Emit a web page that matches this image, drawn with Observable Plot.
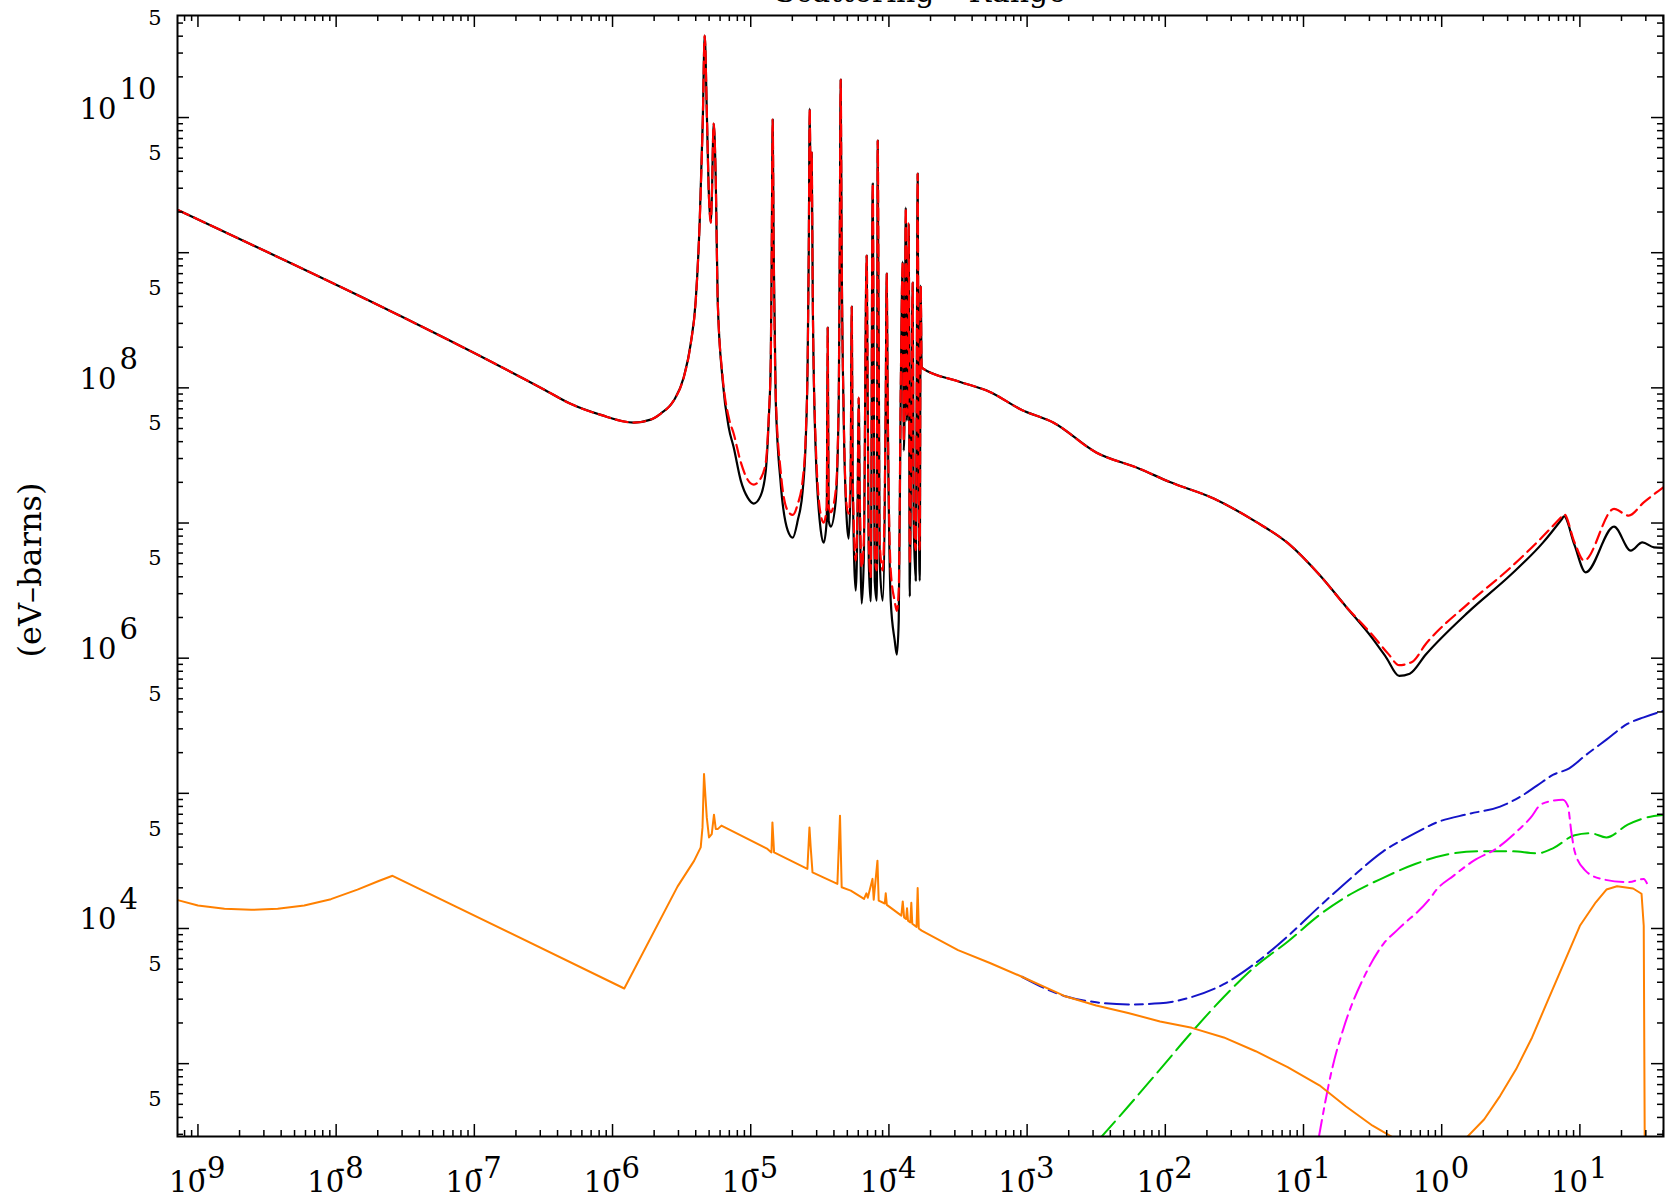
<!DOCTYPE html>
<html>
<head>
<meta charset="utf-8">
<script src="https://cdn.jsdelivr.net/npm/d3@7"></script>
<script src="https://cdn.jsdelivr.net/npm/@observablehq/plot@0.6"></script>
<style>
  html, body { margin: 0; padding: 0; background: #fff; }
  #chart svg { display: block; }
</style>
</head>
<body>
<div id="chart"></div>
<script>
// ---------- layout ----------
const W = 1667, H = 1201;
const margin = {left: 177, right: 4, top: 15, bottom: 65};
// axis ranges (log10 of the values at the frame edges)
const xRangeLog = [-9.148, 1.605];
const yRangeLog = [2.461, 10.755];

// ---------- data: [log10(energy), log10(value)] ----------
const totalCurve = [
  [-9.146,9.316],[-6.50,7.99],[-6.30,7.88],[-6.085,7.80],[-5.847,7.743],[-5.724,7.765],[-5.651,7.810],
  [-5.557,7.906],[-5.485,8.076],[-5.434,8.328],[-5.398,8.646],[-5.369,9.238],[-5.347,9.978],[-5.333,10.607],
  [-5.318,10.052],[-5.304,9.460],[-5.289,9.223],[-5.282,9.386],[-5.268,9.956],[-5.253,9.534],[-5.239,8.646],
  [-5.203,8.054],[-5.159,7.706],[-5.123,7.558],[-5.072,7.314],[-5.022,7.188],[-4.978,7.144],[-4.928,7.203],
  [-4.891,7.388],[-4.870,7.758],[-4.855,8.202],[-4.848,9.016],[-4.841,9.985],[-4.834,9.016],[-4.819,7.906],
  [-4.783,7.292],[-4.732,6.944],[-4.696,6.892],[-4.660,7.018],[-4.624,7.240],[-4.602,7.610],[-4.588,8.202],
  [-4.580,9.016],[-4.573,10.067],[-4.566,9.386],[-4.559,9.741],[-4.551,8.646],[-4.530,7.536],[-4.493,6.944],
  [-4.472,6.855],[-4.450,7.018],[-4.443,8.446],[-4.436,7.018],[-4.421,6.973],[-4.385,7.166],[-4.363,7.906],
  [-4.356,9.016],[-4.349,10.281],[-4.342,9.016],[-4.327,7.758],[-4.305,7.018],[-4.291,6.885],[-4.277,7.314],
  [-4.269,8.601],[-4.262,7.314],[-4.240,6.500],[-4.226,7.166],[-4.219,7.928],[-4.211,7.166],[-4.197,6.404],
  [-4.182,6.722],[-4.161,8.979],[-4.146,6.722],[-4.132,6.42],[-4.117,9.512],[-4.103,6.574],[-4.088,6.426],
  [-4.081,9.830],[-4.067,6.722],[-4.045,6.426],[-4.023,7.906],[-4.016,8.846],[-4.009,7.906],[-3.987,6.426],
  [-3.958,6.130],[-3.943,6.026],[-3.929,6.278],[-3.915,7.906],[-3.900,8.934],[-3.893,7.536],[-3.886,7.906],
  [-3.878,9.334],[-3.871,7.758],[-3.864,7.906],[-3.857,9.216],[-3.849,6.456],[-3.842,7.166],[-3.828,8.779],
  [-3.821,7.018],[-3.806,6.574],[-3.799,7.906],[-3.792,9.586],[-3.784,7.166],[-3.777,6.574],[-3.770,8.757],
  [-3.763,8.150],[-3.500,8.049],[-3.269,7.970],[-3.038,7.836],[-2.808,7.742],[-2.500,7.522],[-2.192,7.404],
  [-1.962,7.301],[-1.654,7.183],[-1.346,7.010],[-1.115,6.853],[-0.885,6.617],[-0.692,6.381],[-0.500,6.145],
  [-0.400,6.003],[-0.308,5.869],[-0.231,5.885],[-0.115,6.027],[0.192,6.341],[0.500,6.617],[0.731,6.853],
  [0.870,7.030],[0.885,7.050],[0.960,6.840],[1.042,6.635],[1.247,6.973],[1.368,6.796],[1.452,6.857],
  [1.536,6.820],[1.604,6.816]
];

const redCurve = [
  [-9.146,9.316],[-6.50,7.99],[-6.30,7.88],[-6.085,7.80],[-5.847,7.743],[-5.724,7.765],[-5.651,7.810],
  [-5.557,7.906],[-5.485,8.076],[-5.434,8.328],[-5.398,8.646],[-5.369,9.238],[-5.347,9.978],[-5.333,10.607],
  [-5.318,10.052],[-5.304,9.460],[-5.289,9.223],[-5.282,9.386],[-5.268,9.956],[-5.253,9.534],[-5.239,8.646],
  [-5.203,8.08],[-5.159,7.78],[-5.123,7.66],[-5.072,7.45],[-5.022,7.32],[-4.978,7.284],[-4.928,7.33],
  [-4.891,7.45],[-4.870,7.78],[-4.855,8.202],[-4.848,9.016],[-4.841,9.985],[-4.834,9.016],[-4.819,7.95],
  [-4.783,7.38],[-4.732,7.09],[-4.696,7.06],[-4.660,7.14],[-4.624,7.32],[-4.602,7.65],[-4.588,8.202],
  [-4.580,9.016],[-4.573,10.067],[-4.566,9.386],[-4.559,9.741],[-4.551,8.646],[-4.530,7.60],[-4.493,7.06],
  [-4.472,7.003],[-4.450,7.12],[-4.443,8.446],[-4.436,7.12],[-4.421,7.08],[-4.385,7.24],[-4.363,7.93],
  [-4.356,9.016],[-4.349,10.281],[-4.342,9.016],[-4.327,7.80],[-4.305,7.12],[-4.291,7.07],[-4.277,7.36],
  [-4.269,8.601],[-4.262,7.36],[-4.240,6.722],[-4.226,7.22],[-4.219,7.928],[-4.211,7.22],[-4.197,6.67],
  [-4.182,6.86],[-4.161,8.979],[-4.146,6.86],[-4.132,6.60],[-4.117,9.512],[-4.103,6.76],[-4.088,6.65],
  [-4.081,9.830],[-4.067,6.86],[-4.045,6.65],[-4.023,7.93],[-4.016,8.846],[-4.009,7.93],[-3.987,6.65],
  [-3.958,6.42],[-3.943,6.35],[-3.929,6.50],[-3.915,7.93],[-3.900,8.934],[-3.893,7.60],[-3.886,7.93],
  [-3.878,9.334],[-3.871,7.80],[-3.864,7.93],[-3.857,9.216],[-3.849,6.70],[-3.842,7.22],[-3.828,8.779],
  [-3.821,7.10],[-3.806,6.80],[-3.799,7.93],[-3.792,9.586],[-3.784,7.22],[-3.777,6.80],[-3.770,8.757],
  [-3.763,8.150],[-3.500,8.049],[-3.269,7.970],[-3.038,7.836],[-2.808,7.742],[-2.500,7.522],[-2.192,7.404],
  [-1.962,7.301],[-1.654,7.183],[-1.346,7.010],[-1.115,6.853],[-0.885,6.617],[-0.692,6.381],[-0.500,6.170],
  [-0.385,6.030],[-0.308,5.948],[-0.215,5.972],[-0.115,6.105],[0.192,6.404],[0.500,6.672],[0.731,6.900],
  [0.870,7.050],[0.885,7.066],[0.960,6.860],[1.030,6.722],[1.247,7.104],[1.353,7.055],[1.462,7.153],
  [1.604,7.264]
];

const orangeLow = [
  [-9.146,4.21],[-9.000,4.17],[-8.808,4.146],[-8.615,4.138],[-8.423,4.146],[-8.231,4.170],[-8.038,4.217],
  [-7.846,4.288],[-7.692,4.351],[-7.592,4.390],
  [-5.915,3.556],[-5.530,4.31],[-5.410,4.500],[-5.362,4.600],[-5.349,4.748],[-5.338,5.143],[-5.318,4.822],
  [-5.302,4.674],[-5.282,4.699],[-5.266,4.842],[-5.253,4.737],[-5.237,4.737],[-5.212,4.761],[-4.879,4.589],
  [-4.850,4.563],[-4.843,4.785],[-4.831,4.563],[-4.590,4.441],[-4.575,4.748],[-4.566,4.600],[-4.553,4.415],
  [-4.373,4.330],[-4.354,4.835],[-4.342,4.305],[-4.276,4.280],[-4.180,4.219],[-4.163,4.260],[-4.153,4.228],
  [-4.119,4.367],[-4.110,4.213],[-4.083,4.502],[-4.074,4.206],[-4.030,4.185],[-4.023,4.26],[-4.015,4.175],
  [-3.910,4.095],[-3.900,4.20],[-3.890,4.082],[-3.876,4.070],[-3.869,4.15],[-3.862,4.058],[-3.845,4.045],
  [-3.838,4.19],[-3.831,4.035],[-3.800,4.012],[-3.792,4.30],[-3.784,4.000],[-3.763,3.984],[-3.500,3.840],
  [-3.269,3.745],[-3.038,3.643],[-2.731,3.501],[-2.500,3.430],[-2.269,3.375],[-2.038,3.312],[-1.808,3.265],
  [-1.577,3.194],[-1.346,3.092],[-1.115,2.974],[-0.885,2.840],[-0.692,2.683],[-0.500,2.541],[-0.346,2.450]
];

const orangeHigh = [
  [0.177,2.450],[0.308,2.589],[0.423,2.762],[0.538,2.958],[0.654,3.194],[0.769,3.470],[0.885,3.745],
  [1.000,4.020],[1.115,4.194],[1.192,4.288],[1.269,4.312],[1.385,4.296],[1.446,4.257],[1.462,4.020],
  [1.469,2.450]
];

const blueCurve = [
  [-3.038,3.643],[-2.731,3.501],[-2.500,3.454],[-2.269,3.438],[-2.038,3.446],[-1.808,3.493],[-1.577,3.588],
  [-1.346,3.745],[-1.115,3.942],[-0.885,4.162],[-0.654,4.375],[-0.423,4.571],[-0.192,4.705],[-0.038,4.784],
  [0.192,4.847],[0.423,4.902],[0.577,4.980],[0.692,5.059],[0.808,5.138],[0.923,5.185],[1.038,5.279],
  [1.192,5.397],[1.346,5.515],[1.462,5.562],[1.604,5.610]
];

const greenCurve = [
  [-2.470,2.450],[-2.269,2.683],[-2.038,2.958],[-1.808,3.234],[-1.577,3.493],[-1.346,3.722],[-1.115,3.902],
  [-0.885,4.100],[-0.654,4.257],[-0.423,4.375],[-0.192,4.477],[0.038,4.548],[0.269,4.571],[0.500,4.571],
  [0.692,4.556],[0.808,4.595],[0.962,4.690],[1.077,4.705],[1.192,4.674],[1.346,4.768],[1.462,4.815],
  [1.600,4.839]
];

const magentaCurve = [
  [-0.890,2.45],[-0.796,2.948],[-0.709,3.266],[-0.550,3.666],[-0.420,3.888],[-0.311,3.999],[-0.080,4.228],
  [-0.043,4.280],[0.087,4.391],[0.232,4.502],[0.405,4.598],[0.550,4.724],[0.644,4.820],[0.716,4.916],
  [0.810,4.946],[0.876,4.953],[0.912,4.909],[0.940,4.70],[0.962,4.571],[1.038,4.430],[1.154,4.367],
  [1.346,4.343],[1.462,4.367],[1.485,4.335]
];

// ---------- axis ticks and labels ----------
const xDecadePowers = [-10,-9,-8,-7,-6,-5,-4,-3,-2,-1,0,1];
const yDecadePowers = [2,3,4,5,6,7,8,9,10];
const minorMultipliers = [2,3,4,5,6,7,8,9];
const xLabelPowers = [-9,-8,-7,-6,-5,-4,-3,-2,-1,0,1];
const yLabelPowers = [10,8,6,4];
const yFiveMultiplier = 5;
const titleText = "Scattering \u2013 Range";
const yTitle = "(eV\u2013barns)";

// ---------- build ----------
const xMin = 10 ** xRangeLog[0], xMax = 10 ** xRangeLog[1];
const yMin = 10 ** yRangeLog[0], yMax = 10 ** yRangeLog[1];
const inX = v => v >= xMin && v <= xMax;
const inY = v => v >= yMin && v <= yMax;
const rows = pairs => pairs.map(([le, lv]) => ({E: 10 ** le, v: 10 ** lv}));

const xMajor = xDecadePowers.map(p => 10 ** p).filter(inX);
const yMajor = yDecadePowers.map(p => 10 ** p).filter(inY);
const xMinor = xDecadePowers.flatMap(p => minorMultipliers.map(m => m * 10 ** p)).filter(inX);
const yMinor = yDecadePowers.flatMap(p => minorMultipliers.map(m => m * 10 ** p)).filter(inY);
const yFives = yDecadePowers.map(p => yFiveMultiplier * 10 ** p).filter(inY);

const frameW = W - margin.left - margin.right;
const frameH = H - margin.top - margin.bottom;
const font = "DejaVu Serif";
const lineOpts = (stroke, width, dash, curve) => ({x: "E", y: "v", stroke, strokeWidth: width,
  strokeDasharray: dash, clip: true, strokeLinejoin: "round", curve: curve || "monotone-x"});

const chart = Plot.plot({
  width: W,
  height: H,
  marginLeft: margin.left,
  marginRight: margin.right,
  marginTop: margin.top,
  marginBottom: margin.bottom,
  style: {fontFamily: font, background: "#fff", overflow: "visible"},
  x: {type: "log", domain: [xMin, xMax], axis: null},
  y: {type: "log", domain: [yMin, yMax], axis: null},
  marks: [
    Plot.line(rows(totalCurve), lineOpts("#000000", 2.2)),
    Plot.line(rows(redCurve), lineOpts("#ff0000", 2.2, "12,6")),
    Plot.line(rows(blueCurve), lineOpts("#1414c8", 2, "24,6,8,6")),
    Plot.line(rows(greenCurve), lineOpts("#00c800", 2, "22,7")),
    Plot.line(rows(magentaCurve), lineOpts("#ff00ff", 2, "18,6,6,6")),
    Plot.line(rows(orangeLow), lineOpts("#ff8000", 2, null, "linear")),
    Plot.line(rows(orangeHigh), lineOpts("#ff8000", 2, null, "linear")),
    Plot.frame({stroke: "#000", strokeWidth: 2}),
    // y ticks (left and right, pointing inward)
    Plot.tickY(yMajor, {y: d => d, insetRight: frameW - 12, stroke: "#000", strokeWidth: 1.5}),
    Plot.tickY(yMajor, {y: d => d, insetLeft: frameW - 12, stroke: "#000", strokeWidth: 1.5}),
    Plot.tickY(yMinor, {y: d => d, insetRight: frameW - 6, stroke: "#000", strokeWidth: 1.5}),
    Plot.tickY(yMinor, {y: d => d, insetLeft: frameW - 6, stroke: "#000", strokeWidth: 1.5}),
    // x ticks (top and bottom, pointing inward)
    Plot.tickX(xMajor, {x: d => d, insetBottom: frameH - 12, stroke: "#000", strokeWidth: 1.5}),
    Plot.tickX(xMajor, {x: d => d, insetTop: frameH - 12, stroke: "#000", strokeWidth: 1.5}),
    Plot.tickX(xMinor, {x: d => d, insetBottom: frameH - 6, stroke: "#000", strokeWidth: 1.5}),
    Plot.tickX(xMinor, {x: d => d, insetTop: frameH - 6, stroke: "#000", strokeWidth: 1.5}),
    // y tick labels
    Plot.text(yFives, {y: d => d, text: () => String(yFiveMultiplier), frameAnchor: "left", dx: -16, dy: -5,
      textAnchor: "end", fontSize: 21, fontFamily: font, fill: "#000"}),
    Plot.text(yLabelPowers, {y: d => 10 ** d, text: () => "10", frameAnchor: "left", dx: -98, dy: 1,
      textAnchor: "start", lineAnchor: "bottom", fontSize: 29, fontFamily: font, fill: "#000"}),
    Plot.text(yLabelPowers, {y: d => 10 ** d, text: d => String(d), frameAnchor: "left", dx: -58, dy: -19,
      textAnchor: "start", lineAnchor: "bottom", fontSize: 29, fontFamily: font, fill: "#000"}),
    // x tick labels
    Plot.text(xLabelPowers, {x: d => 10 ** d, text: () => "10", frameAnchor: "bottom", dx: 8, dy: 55,
      textAnchor: "end", lineAnchor: "bottom", fontSize: 29, fontFamily: font, fill: "#000"}),
    Plot.text(xLabelPowers, {x: d => 10 ** d, text: d => String(Math.abs(d)), frameAnchor: "bottom", dx: 9, dy: 41,
      textAnchor: "start", lineAnchor: "bottom", fontSize: 29, fontFamily: font, fill: "#000"}),
    Plot.text(xLabelPowers.filter(d => d < 0), {x: d => 10 ** d, text: () => "-", frameAnchor: "bottom", dx: 9, dy: 41,
      textAnchor: "end", lineAnchor: "bottom", fontSize: 29, fontFamily: font, fill: "#000"}),
    // y-axis title
    Plot.text([yTitle], {text: d => d, frameAnchor: "left", dx: -147, dy: -6, rotate: -90, fontSize: 32,
      fontFamily: font, fill: "#000", textAnchor: "middle", lineAnchor: "middle"}),
    // title (mostly above the visible page)
    Plot.text([titleText], {text: d => d, frameAnchor: "top", dy: -14, lineAnchor: "bottom",
      fontSize: 30, fontFamily: font, fill: "#000"})
  ]
});
document.getElementById("chart").appendChild(chart);
</script>
</body>
</html>
